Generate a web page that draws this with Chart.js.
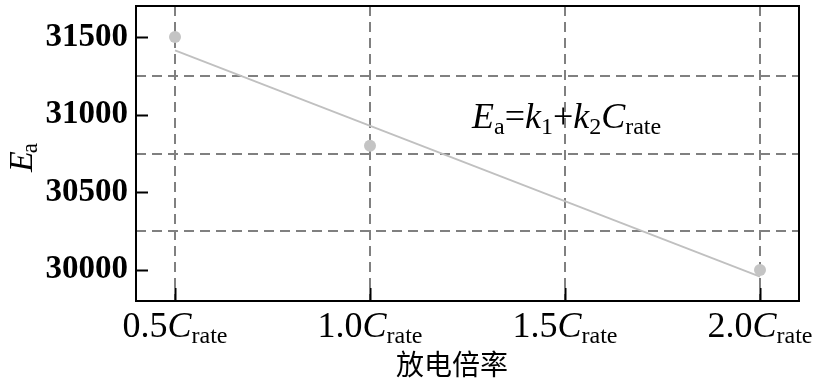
<!DOCTYPE html>
<html>
<head>
<meta charset="utf-8">
<script src="https://cdn.jsdelivr.net/npm/chart.js@4.4.0/dist/chart.umd.min.js"></script>
<style>
html,body{margin:0;padding:0;background:#fff;}
#wrap{width:815px;height:381px;position:relative;}
</style>
</head>
<body>
<div id="wrap"><canvas id="c" width="815" height="381"></canvas></div>
<script>
// ---- data ----
const rates = [0.5, 1.0, 2.0];              // discharge rate (C_rate)
const eaValues = [31500, 30800, 30000];     // E_a measured
const fitX = [0.5, 2.0];                    // fitted line ends
const fitY = [31414, 29957];                // fitted line values
const xTicks = [0.5, 1.0, 1.5, 2.0];
const xTickLabels = ['0.5', '1.0', '1.5', '2.0'];
const yTicks = [30000, 30500, 31000, 31500];
const yTickLabels = ['30000', '30500', '31000', '31500'];
const yGridLines = [30250, 30750, 31250];
const xTitle = '放电倍率';

const SERIF = '"Liberation Serif", "DejaVu Serif", serif';

const textPlugin = {
  id: 'textPlugin',
  afterDraw(chart) {
    const ctx = chart.ctx;
    const ca = chart.chartArea;
    const xs = chart.scales.x, ys = chart.scales.y;
    ctx.save();
    // inward tick marks
    ctx.strokeStyle = '#000';
    ctx.lineWidth = 2;
    ctx.beginPath();
    yTicks.forEach(v => {
      const py = Math.round(ys.getPixelForValue(v)) + 0.5;
      ctx.moveTo(ca.left, py); ctx.lineTo(ca.left + 12, py);
    });
    xTicks.forEach(v => {
      const px = Math.round(xs.getPixelForValue(v)) + 0.5;
      ctx.moveTo(px, ca.bottom); ctx.lineTo(px, ca.bottom - 13);
    });
    ctx.stroke();
    // frame
    ctx.lineWidth = 2;
    ctx.strokeRect(ca.left, ca.top, ca.right - ca.left, ca.bottom - ca.top);

    ctx.fillStyle = '#000';
    ctx.textBaseline = 'alphabetic';
    ctx.textAlign = 'left';
    // x tick labels with subscript
    const mainF = '36px ' + SERIF, itF = 'italic 36px ' + SERIF, subF = '24px ' + SERIF;
    xTicks.forEach((v, i) => {
      const px = xs.getPixelForValue(v);
      ctx.font = mainF; const w1 = ctx.measureText(xTickLabels[i]).width;
      ctx.font = itF; const w2 = ctx.measureText('C').width;
      ctx.font = subF; const w3 = ctx.measureText('rate').width;
      let x0 = px - (w1 + w2 + w3) / 2;
      const base = 337;
      ctx.font = mainF; ctx.fillText(xTickLabels[i], x0, base); x0 += w1;
      ctx.font = itF; ctx.fillText('C', x0, base); x0 += w2;
      ctx.font = subF; ctx.fillText('rate', x0, base + 6);
    });
    // x title
    ctx.font = '28px "Noto Sans CJK SC"';
    ctx.textAlign = 'center';
    ctx.fillText(xTitle, 452, 375);
    ctx.textAlign = 'left';
    // y title rotated
    ctx.save();
    ctx.translate(32, 172);
    ctx.rotate(-Math.PI / 2);
    ctx.font = 'italic 34px ' + SERIF;
    ctx.fillText('E', 0, 0);
    const we = ctx.measureText('E').width;
    ctx.font = '23px ' + SERIF;
    ctx.fillText('a', we - 2, 5);
    ctx.restore();
    // equation annotation
    const parts = [
      ['E', 'italic 36px ', 0], ['a', '24px ', 6], ['=', '36px ', 0],
      ['k', 'italic 36px ', 0], ['1', '24px ', 6], ['+', '36px ', 0],
      ['k', 'italic 36px ', 0], ['2', '24px ', 6], ['C', 'italic 36px ', 0],
      ['rate', '24px ', 6]
    ];
    let ex = 472;
    parts.forEach(p => {
      ctx.font = p[1] + SERIF;
      ctx.fillText(p[0], ex, 128 + p[2]);
      ex += ctx.measureText(p[0]).width;
    });
    ctx.restore();
  }
};

new Chart(document.getElementById('c'), {
  type: 'scatter',
  data: {
    datasets: [
      {
        data: rates.map((r, i) => ({x: r, y: eaValues[i]})),
        pointRadius: 6, pointHoverRadius: 6,
        pointBackgroundColor: '#c4c4c4', pointBorderColor: '#c4c4c4', pointBorderWidth: 0,
        showLine: false, order: 0
      },
      {
        data: fitX.map((r, i) => ({x: r, y: fitY[i]})),
        showLine: true, pointRadius: 0, borderColor: '#c0c0c0', borderWidth: 1.8,
        fill: false, order: 1
      }
    ]
  },
  options: {
    responsive: false,
    animation: false,
    events: [],
    layout: {padding: {top: 3, right: 16, left: 0, bottom: 0}},
    plugins: {legend: {display: false}, tooltip: {enabled: false}},
    scales: {
      x: {
        type: 'linear', min: 0.4, max: 2.1,
        afterBuildTicks: s => { s.ticks = xTicks.map(v => ({value: v})); },
        ticks: {display: false},
        grid: {color: '#808080', lineWidth: 2, drawTicks: false},
        border: {display: false, dash: [10, 6]},
        afterFit: s => { s.height = 80; s.paddingLeft = 0; s.paddingRight = 0; }
      },
      y: {
        type: 'linear', min: 29800, max: 31700, position: 'left',
        afterBuildTicks: s => { s.ticks = yTicks.map(v => ({value: v})); },
        ticks: {
          color: '#000', font: {family: SERIF, size: 33, weight: 'bold'}, padding: 8,
          callback: (v) => yTickLabels[yTicks.indexOf(v)]
        },
        grid: {display: false, drawTicks: false},
        border: {display: false},
        afterFit: s => { s.width = 136; s.paddingTop = 0; s.paddingBottom = 0; }
      },
      y2: {
        type: 'linear', min: 29800, max: 31700, position: 'left',
        afterBuildTicks: s => { s.ticks = yGridLines.map(v => ({value: v})); },
        ticks: {display: false},
        grid: {color: '#808080', lineWidth: 2, drawTicks: false},
        border: {display: false, dash: [10, 6]},
        afterFit: s => { s.width = 0; s.paddingTop = 0; s.paddingBottom = 0; }
      }
    }
  },
  plugins: [textPlugin]
});
</script>
</body>
</html>
